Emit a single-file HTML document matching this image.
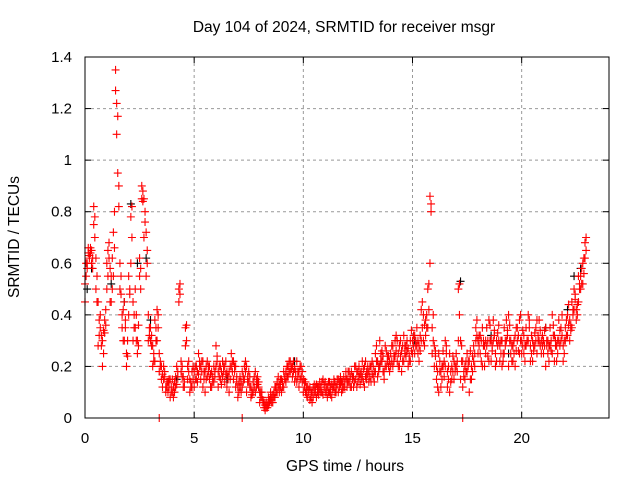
<!DOCTYPE html>
<html><head><meta charset="utf-8"><style>
body{margin:0;background:#fff}
svg{display:block;font-family:"Liberation Sans",sans-serif}
</style></head><body>
<svg id="chart" width="640" height="480">
<text x="344" y="32" text-anchor="middle" font-size="15.5">Day 104 of 2024, SRMTID for receiver msgr</text>
<text x="345" y="471" text-anchor="middle" font-size="15.5">GPS time / hours</text>
<text transform="translate(19,237) rotate(-90)" text-anchor="middle" font-size="15.5">SRMTID / TECUs</text>
<g id="grid"></g>
<g id="ticks"></g>
<g id="marks"></g>
<rect x="85" y="57" width="524" height="361" fill="none" stroke="#000" stroke-width="1"/>
</svg>
<script>
const xTicks=[0,5,10,15,20];
const yTicks=[0,0.2,0.4,0.6,0.8,1,1.2,1.4];
const yTickLabels=["0","0.2","0.4","0.6","0.8","1","1.2","1.4"];
const times=[];
for(let h=0;h<23;h++)for(let k=0;k<10;k++)times.push(+(h+k/10).toFixed(1));
const timesMid=[];
for(let h=0;h<23;h++)for(let k=0;k<10;k++)timesMid.push(+(h+k/10+0.05).toFixed(2));
const redA=[
0.52,0.6,0.63,0.65,0.82,0.62,0.45,0.35,0.3,0.38,
0.6,0.68,0.55,0.72,1.35,1.17,0.6,0.4,0.3,0.25,
0.55,0.78,0.45,0.35,0.3,0.62,0.9,0.85,0.72,0.4,
0.3,0.2,0.38,0.42,0.25,0.2,0.15,0.12,0.1,0.15,
0.1,0.14,0.2,0.5,0.18,0.12,0.35,0.2,0.15,0.12,
0.18,0.15,0.25,0.2,0.12,0.18,0.22,0.15,0.12,0.2,
0.28,0.18,0.15,0.22,0.2,0.12,0.18,0.25,0.15,0.2,
0.08,0.12,0.18,0.15,0.2,0.14,0.12,0.1,0.18,0.13,
0.1,0.08,0.06,0.04,0.05,0.07,0.09,0.12,0.1,0.13,
0.15,0.12,0.18,0.2,0.22,0.16,0.19,0.14,0.18,0.2,
0.15,0.1,0.08,0.12,0.06,0.1,0.13,0.09,0.12,0.15,
0.1,0.12,0.14,0.08,0.12,0.1,0.15,0.13,0.11,0.14,
0.15,0.18,0.12,0.16,0.2,0.14,0.17,0.22,0.12,0.15,
0.18,0.14,0.2,0.25,0.16,0.3,0.22,0.18,0.26,0.2,
0.25,0.2,0.3,0.22,0.28,0.18,0.32,0.24,0.27,0.22,
0.3,0.25,0.35,0.28,0.42,0.3,0.38,0.5,0.86,0.35,
0.2,0.15,0.25,0.12,0.2,0.3,0.18,0.1,0.15,0.22,
0.2,0.5,0.3,0.22,0.15,0.25,0.1,0.2,0.28,0.35,
0.3,0.25,0.35,0.2,0.28,0.38,0.22,0.3,0.25,0.33,
0.28,0.2,0.35,0.3,0.4,0.25,0.22,0.32,0.3,0.38,
0.3,0.25,0.35,0.4,0.28,0.22,0.33,0.38,0.3,0.25,
0.3,0.35,0.25,0.28,0.4,0.32,0.22,0.3,0.35,0.28,
0.35,0.4,0.3,0.45,0.5,0.42,0.55,0.5,0.6,0.68];
const redB=[
0.45,0.58,0.62,0.6,0.75,0.5,0.28,0.4,0.2,0.33,
0.5,0.62,0.45,0.55,1.27,0.95,0.5,0.35,0.45,0.2,
0.4,0.6,0.3,0.5,0.25,0.55,0.85,0.7,0.55,0.3,
0.35,0.28,0.22,0.3,0.18,0.15,0.2,0.1,0.14,0.08,
0.15,0.1,0.13,0.45,0.22,0.16,0.28,0.15,0.1,0.18,
0.12,0.2,0.17,0.15,0.22,0.1,0.16,0.2,0.18,0.14,
0.2,0.12,0.2,0.16,0.14,0.18,0.1,0.2,0.22,0.12,
0.12,0.16,0.12,0.2,0.1,0.18,0.08,0.14,0.1,0.16,
0.06,0.1,0.04,0.06,0.08,0.1,0.06,0.08,0.14,0.1,
0.1,0.18,0.14,0.16,0.18,0.2,0.14,0.22,0.12,0.16,
0.1,0.14,0.12,0.07,0.1,0.13,0.08,0.12,0.1,0.09,
0.14,0.08,0.1,0.13,0.15,0.12,0.1,0.16,0.14,0.12,
0.12,0.14,0.18,0.12,0.15,0.18,0.13,0.16,0.2,0.18,
0.14,0.2,0.16,0.18,0.22,0.2,0.26,0.15,0.2,0.24,
0.2,0.28,0.24,0.3,0.2,0.26,0.22,0.28,0.2,0.3,
0.25,0.32,0.28,0.22,0.3,0.4,0.32,0.35,0.6,0.25,
0.28,0.2,0.1,0.18,0.26,0.2,0.12,0.25,0.2,0.15,
0.25,0.3,0.15,0.12,0.2,0.18,0.22,0.15,0.22,0.3,
0.25,0.32,0.2,0.28,0.35,0.22,0.3,0.38,0.2,0.28,
0.22,0.3,0.25,0.38,0.2,0.3,0.28,0.2,0.35,0.25,
0.25,0.32,0.28,0.3,0.22,0.3,0.28,0.25,0.38,0.3,
0.25,0.2,0.3,0.35,0.25,0.22,0.28,0.38,0.3,0.22,
0.3,0.32,0.38,0.35,0.42,0.38,0.45,0.55,0.52,0.62];
const redC=[
0.6,0.64,0.66,0.62,0.78,0.55,0.38,0.32,0.25,0.42,
0.65,0.58,0.5,0.8,1.22,0.82,0.55,0.42,0.38,0.3,
0.48,0.7,0.4,0.3,0.36,0.58,0.88,0.8,0.65,0.35,
0.32,0.25,0.3,0.35,0.22,0.17,0.18,0.14,0.12,0.1,
0.12,0.16,0.18,0.48,0.2,0.14,0.3,0.18,0.12,0.15,
0.15,0.18,0.2,0.18,0.15,0.2,0.18,0.17,0.16,0.18,
0.22,0.16,0.18,0.2,0.17,0.15,0.2,0.22,0.18,0.16,
0.1,0.14,0.16,0.18,0.16,0.16,0.1,0.12,0.15,0.12,
0.08,0.06,0.05,0.05,0.06,0.08,0.1,0.1,0.12,0.15,
0.12,0.15,0.16,0.18,0.2,0.18,0.16,0.18,0.15,0.18,
0.12,0.12,0.1,0.1,0.08,0.12,0.1,0.11,0.14,0.12,
0.12,0.1,0.12,0.11,0.14,0.13,0.12,0.14,0.12,0.16,
0.14,0.16,0.15,0.14,0.18,0.16,0.15,0.19,0.16,0.17,
0.16,0.17,0.18,0.22,0.18,0.25,0.24,0.2,0.22,0.22,
0.22,0.24,0.26,0.25,0.24,0.22,0.28,0.26,0.24,0.26,
0.28,0.3,0.3,0.26,0.35,0.36,0.35,0.42,0.8,0.3,
0.24,0.18,0.18,0.15,0.22,0.25,0.15,0.18,0.18,0.2,
0.22,0.4,0.22,0.18,0.18,0.22,0.15,0.18,0.25,0.32,
0.28,0.3,0.28,0.25,0.3,0.3,0.26,0.34,0.22,0.3,
0.25,0.25,0.3,0.34,0.3,0.28,0.25,0.26,0.32,0.3,
0.28,0.28,0.3,0.35,0.25,0.26,0.3,0.32,0.34,0.28,
0.28,0.28,0.28,0.3,0.32,0.28,0.25,0.34,0.32,0.25,
0.32,0.36,0.34,0.4,0.46,0.4,0.5,0.52,0.56,0.7];
const redD=[
0.55,0.66,0.64,0.58,0.7,0.45,0.32,0.28,0.34,0.36,
0.55,0.45,0.62,0.66,1.1,0.9,0.48,0.3,0.35,0.24,
0.5,0.82,0.35,0.4,0.28,0.5,0.84,0.76,0.6,0.32,
0.28,0.22,0.35,0.4,0.2,0.12,0.16,0.12,0.15,0.12,
0.08,0.12,0.16,0.52,0.16,0.12,0.36,0.22,0.14,0.2,
0.2,0.14,0.22,0.22,0.18,0.15,0.2,0.12,0.14,0.16,
0.24,0.2,0.13,0.18,0.22,0.16,0.15,0.18,0.2,0.14,
0.14,0.1,0.14,0.22,0.14,0.12,0.09,0.16,0.12,0.14,
0.1,0.07,0.03,0.04,0.07,0.06,0.08,0.12,0.16,0.12,
0.14,0.16,0.2,0.22,0.19,0.22,0.18,0.16,0.2,0.14,
0.14,0.09,0.11,0.08,0.12,0.1,0.12,0.14,0.1,0.13,
0.1,0.14,0.09,0.12,0.1,0.15,0.14,0.1,0.16,0.18,
0.18,0.12,0.16,0.2,0.12,0.2,0.18,0.14,0.22,0.2,
0.2,0.22,0.14,0.28,0.2,0.22,0.18,0.28,0.24,0.18,
0.28,0.22,0.32,0.2,0.3,0.28,0.25,0.3,0.22,0.34,
0.32,0.28,0.25,0.32,0.45,0.28,0.4,0.52,0.83,0.4,
0.26,0.12,0.22,0.2,0.16,0.28,0.2,0.14,0.24,0.18,
0.18,0.52,0.28,0.16,0.22,0.2,0.26,0.24,0.2,0.38,
0.32,0.22,0.3,0.3,0.24,0.36,0.28,0.32,0.3,0.36,
0.3,0.22,0.28,0.32,0.36,0.22,0.3,0.35,0.26,0.4,
0.34,0.22,0.3,0.38,0.32,0.28,0.35,0.3,0.28,0.32,
0.34,0.3,0.22,0.26,0.36,0.3,0.3,0.28,0.4,0.3,
0.38,0.44,0.36,0.42,0.48,0.44,0.52,0.58,0.62,0.65];
const blackT=[0.1,0.3,1.2,1.8,2.1,2.4,2.8,3.0,4.2,6.5,9.6,13.5,15.1,17.2,18.6,19.4,21.1,22.1,22.4,22.7];
const blackV=[0.5,0.58,0.52,0.45,0.83,0.6,0.62,0.38,0.15,0.15,0.22,0.2,0.3,0.53,0.32,0.25,0.35,0.42,0.55,0.58];
const zeroT=[3.4,7.2,17.3];
const zeroV=[0,0,0];

const X=t=>85+t*524/24, Y=v=>418-v*361/1.4;
const NS="http://www.w3.org/2000/svg";
const grid=document.getElementById('grid'),ticks=document.getElementById('ticks'),marks=document.getElementById('marks');
function el(tag,attrs,parent){const e=document.createElementNS(NS,tag);for(const k in attrs)e.setAttribute(k,attrs[k]);parent.appendChild(e);return e;}
xTicks.forEach(t=>{
  if(t>0){const g=el('line',{x1:X(t),x2:X(t),y1:57,y2:418,stroke:'#999','stroke-dasharray':'3,3'},grid);
  
  }
  el('line',{x1:X(t),x2:X(t),y1:418,y2:412,stroke:'#000'},ticks);
  el('line',{x1:X(t),x2:X(t),y1:57,y2:63,stroke:'#000'},ticks);
  const l=el('text',{x:X(t),y:443,'text-anchor':'middle','font-size':15},ticks);l.textContent=t;
  
  
});
yTicks.forEach((v,i)=>{
  if(v>0&&v<1.4){const g=el('line',{x1:85,x2:609,y1:Y(v),y2:Y(v),stroke:'#999','stroke-dasharray':'3,3'},grid);
  
  }
  el('line',{x1:85,x2:91,y1:Y(v),y2:Y(v),stroke:'#000'},ticks);
  el('line',{x1:609,x2:603,y1:Y(v),y2:Y(v),stroke:'#000'},ticks);
  const l=el('text',{x:72,y:Y(v)+5,'text-anchor':'end','font-size':15},ticks);l.textContent=yTickLabels[i];
  
  
});
function series(ts,vs,color,name){
  let d='';
  ts.forEach((t,i)=>{const x=X(t),y=Y(vs[i]);d+=`M${x-4},${y}h8M${x},${y-4}v8`;});
  const p=el('path',{d:d,stroke:color,'stroke-width':1.1,fill:'none'},marks);
  
  
}
series(blackT,blackV,'#000','black-series-points');
series(timesMid,redD,'#f00','red-series-points-d');
series(times,redB,'#f00','red-series-points-b');
series(timesMid,redC,'#f00','red-series-points-c');
series(times,redA,'#f00','red-series-points-a');
series(zeroT,zeroV,'#f00','red-zero-points');
</script>
</body></html>
